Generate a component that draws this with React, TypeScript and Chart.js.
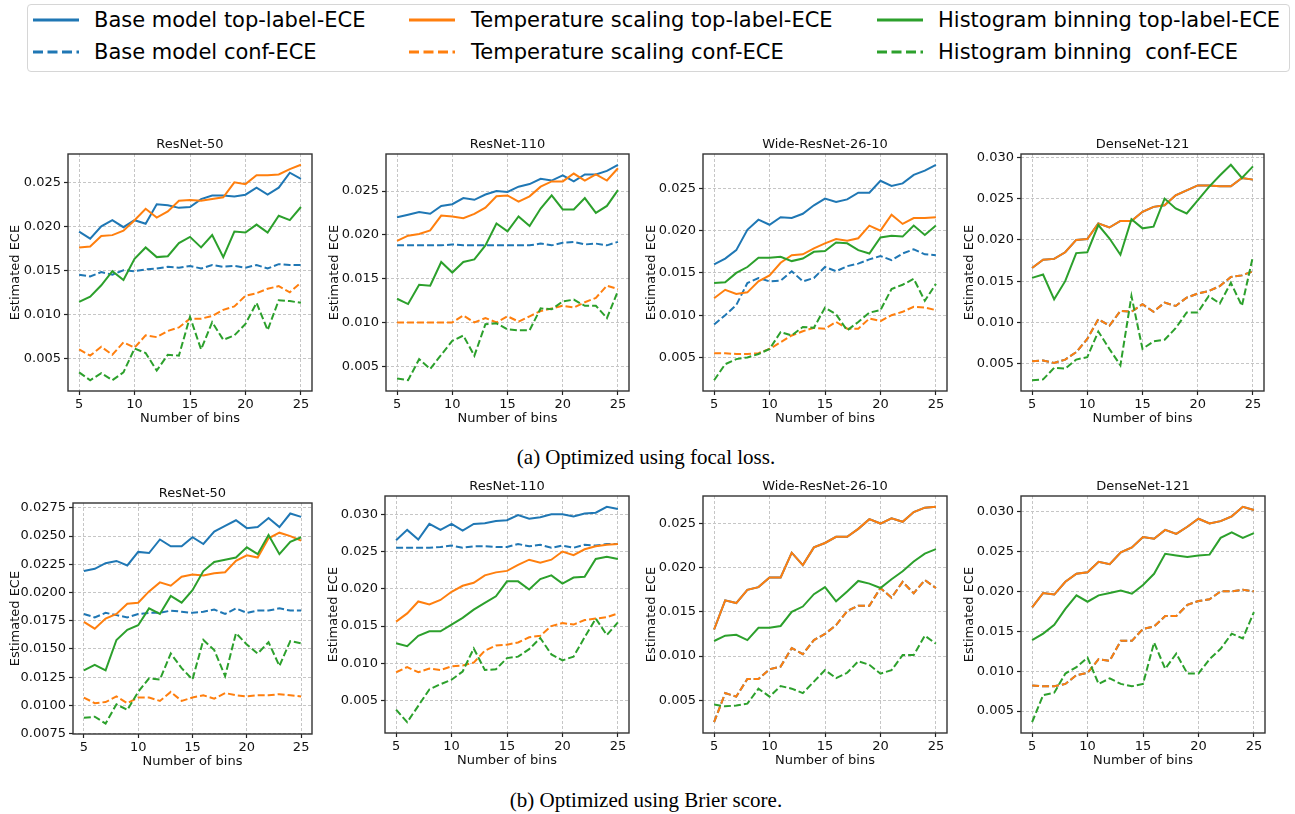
import React, { useEffect, useRef } from 'react';
import { Chart, registerables } from 'chart.js';

Chart.register(...registerables);

// ---------------- data ----------------
const BINS = [5, 6, 7, 8, 9, 10, 11, 12, 13, 14, 15, 16, 17, 18, 19, 20, 21, 22, 23, 24, 25];
const X_TICKS = [5, 10, 15, 20, 25];
const Y_TICKS_025 = [0.005, 0.01, 0.015, 0.02, 0.025];
const Y_TICKS_030 = [0.005, 0.01, 0.015, 0.02, 0.025, 0.03];
const Y_TICKS_BR50 = [0.0075, 0.01, 0.0125, 0.015, 0.0175, 0.02, 0.0225, 0.025, 0.0275];

const SERIES_LABELS = [
  'Base model top-label-ECE',
  'Base model conf-ECE',
  'Temperature scaling top-label-ECE',
  'Temperature scaling conf-ECE',
  'Histogram binning top-label-ECE',
  'Histogram binning  conf-ECE',
];
const SERIES_COLORS = ['#1f77b4', '#1f77b4', '#ff7f0e', '#ff7f0e', '#2ca02c', '#2ca02c'];
const SERIES_DASHED = [false, true, false, true, false, true];

// (a) focal loss — ResNet-50
const fR50BaseTop = [0.0194, 0.0186, 0.0200, 0.0207, 0.0199, 0.0207, 0.0203, 0.0225, 0.0224, 0.0221, 0.0222, 0.0231, 0.0235, 0.0235, 0.0234, 0.0236, 0.0244, 0.0236, 0.0244, 0.0261, 0.0254];
const fR50BaseConf = [0.0145, 0.0143, 0.0148, 0.0145, 0.0150, 0.0149, 0.0151, 0.0152, 0.0154, 0.0153, 0.0155, 0.0152, 0.0156, 0.0154, 0.0155, 0.0153, 0.0156, 0.0152, 0.0157, 0.0156, 0.0156];
const fR50TsTop = [0.0176, 0.0177, 0.0189, 0.0190, 0.0195, 0.0207, 0.0220, 0.0210, 0.0217, 0.0229, 0.0230, 0.0229, 0.0231, 0.0233, 0.0250, 0.0248, 0.0258, 0.0258, 0.0259, 0.0265, 0.0270];
const fR50TsConf = [0.0060, 0.0053, 0.0063, 0.0054, 0.0068, 0.0062, 0.0076, 0.0074, 0.0081, 0.0085, 0.0095, 0.0095, 0.0098, 0.0105, 0.0109, 0.0121, 0.0124, 0.0129, 0.0132, 0.0125, 0.0136];
const fR50HbTop = [0.0114, 0.0120, 0.0133, 0.0149, 0.0139, 0.0163, 0.0176, 0.0165, 0.0166, 0.0181, 0.0188, 0.0176, 0.0190, 0.0165, 0.0194, 0.0193, 0.0202, 0.0193, 0.0212, 0.0207, 0.0222];
const fR50HbConf = [0.0034, 0.0025, 0.0033, 0.0025, 0.0034, 0.0061, 0.0056, 0.0036, 0.0054, 0.0053, 0.0097, 0.0060, 0.0091, 0.0071, 0.0076, 0.0089, 0.0113, 0.0082, 0.0116, 0.0115, 0.0113];

// (a) focal loss — ResNet-110
const fR110BaseTop = [0.0220, 0.0223, 0.0226, 0.0224, 0.0233, 0.0235, 0.0242, 0.0240, 0.0246, 0.0250, 0.0249, 0.0255, 0.0258, 0.0264, 0.0262, 0.0268, 0.0261, 0.0269, 0.0269, 0.0273, 0.0280];
const fR110BaseConf = [0.0188, 0.0188, 0.0188, 0.0188, 0.0188, 0.0189, 0.0188, 0.0188, 0.0188, 0.0188, 0.0188, 0.0188, 0.0188, 0.0190, 0.0188, 0.0191, 0.0192, 0.0189, 0.0190, 0.0188, 0.0192];
const fR110TsTop = [0.0193, 0.0199, 0.0201, 0.0205, 0.0222, 0.0221, 0.0219, 0.0224, 0.0231, 0.0244, 0.0245, 0.0238, 0.0244, 0.0255, 0.0261, 0.0261, 0.0270, 0.0262, 0.0269, 0.0262, 0.0276];
const fR110TsConf = [0.0100, 0.0100, 0.0100, 0.0100, 0.0100, 0.0100, 0.0108, 0.0100, 0.0105, 0.0100, 0.0107, 0.0101, 0.0107, 0.0113, 0.0116, 0.0119, 0.0117, 0.0123, 0.0128, 0.0142, 0.0138];
const fR110HbTop = [0.0127, 0.0121, 0.0143, 0.0142, 0.0169, 0.0157, 0.0169, 0.0172, 0.0188, 0.0213, 0.0204, 0.0221, 0.0210, 0.0230, 0.0245, 0.0229, 0.0229, 0.0242, 0.0225, 0.0233, 0.0251];
const fR110HbConf = [0.0036, 0.0034, 0.0058, 0.0047, 0.0063, 0.0079, 0.0085, 0.0062, 0.0098, 0.0099, 0.0092, 0.0091, 0.0091, 0.0116, 0.0115, 0.0124, 0.0126, 0.0119, 0.0119, 0.0105, 0.0136];

// (a) focal loss — Wide-ResNet-26-10
const fWrnBaseTop = [0.0160, 0.0167, 0.0177, 0.0201, 0.0213, 0.0207, 0.0216, 0.0215, 0.0220, 0.0230, 0.0238, 0.0234, 0.0237, 0.0245, 0.0245, 0.0259, 0.0253, 0.0256, 0.0266, 0.0271, 0.0278];
const fWrnBaseConf = [0.0089, 0.0100, 0.0112, 0.0138, 0.0144, 0.0140, 0.0141, 0.0152, 0.0140, 0.0144, 0.0157, 0.0152, 0.0158, 0.0161, 0.0166, 0.0170, 0.0165, 0.0173, 0.0178, 0.0172, 0.0171];
const fWrnTsTop = [0.0120, 0.0130, 0.0125, 0.0127, 0.0140, 0.0147, 0.0162, 0.0171, 0.0172, 0.0179, 0.0185, 0.0190, 0.0188, 0.0191, 0.0206, 0.0200, 0.0219, 0.0208, 0.0215, 0.0215, 0.0216];
const fWrnTsConf = [0.0055, 0.0055, 0.0054, 0.0054, 0.0055, 0.0060, 0.0068, 0.0076, 0.0081, 0.0085, 0.0084, 0.0092, 0.0084, 0.0084, 0.0096, 0.0093, 0.0100, 0.0104, 0.0110, 0.0109, 0.0106];
const fWrnHbTop = [0.0138, 0.0139, 0.0150, 0.0157, 0.0168, 0.0168, 0.0169, 0.0164, 0.0167, 0.0175, 0.0176, 0.0186, 0.0185, 0.0177, 0.0173, 0.0192, 0.0194, 0.0193, 0.0206, 0.0195, 0.0206];
const fWrnHbConf = [0.0023, 0.0042, 0.0048, 0.0050, 0.0054, 0.0060, 0.0080, 0.0076, 0.0086, 0.0085, 0.0109, 0.0101, 0.0082, 0.0092, 0.0103, 0.0106, 0.0131, 0.0136, 0.0143, 0.0117, 0.0137];

// (a) focal loss — DenseNet-121 (base model coincides with temperature scaling)
const fDnBaseTop = [0.0166, 0.0176, 0.0177, 0.0185, 0.0200, 0.0201, 0.0220, 0.0215, 0.0223, 0.0223, 0.0234, 0.0240, 0.0242, 0.0254, 0.0260, 0.0266, 0.0266, 0.0265, 0.0265, 0.0275, 0.0273];
const fDnBaseConf = [0.0053, 0.0054, 0.0051, 0.0055, 0.0064, 0.0080, 0.0104, 0.0096, 0.0114, 0.0113, 0.0122, 0.0113, 0.0124, 0.0120, 0.0130, 0.0135, 0.0138, 0.0144, 0.0155, 0.0157, 0.0162];
const fDnTsTop = [0.0166, 0.0176, 0.0177, 0.0185, 0.0200, 0.0201, 0.0220, 0.0215, 0.0223, 0.0223, 0.0234, 0.0240, 0.0242, 0.0254, 0.0260, 0.0266, 0.0266, 0.0265, 0.0265, 0.0275, 0.0273];
const fDnTsConf = [0.0053, 0.0054, 0.0051, 0.0055, 0.0064, 0.0080, 0.0104, 0.0096, 0.0114, 0.0113, 0.0122, 0.0113, 0.0124, 0.0120, 0.0130, 0.0135, 0.0138, 0.0144, 0.0155, 0.0157, 0.0162];
const fDnHbTop = [0.0154, 0.0158, 0.0128, 0.0150, 0.0184, 0.0185, 0.0218, 0.0202, 0.0182, 0.0225, 0.0214, 0.0216, 0.0250, 0.0238, 0.0232, 0.0248, 0.0264, 0.0278, 0.0291, 0.0275, 0.0289];
const fDnHbConf = [0.0030, 0.0031, 0.0045, 0.0044, 0.0055, 0.0058, 0.0089, 0.0068, 0.0048, 0.0132, 0.0068, 0.0077, 0.0079, 0.0093, 0.0112, 0.0112, 0.0132, 0.0123, 0.0148, 0.0120, 0.0180];

// (b) Brier score — ResNet-50
const bR50BaseTop = [0.0219, 0.0221, 0.0226, 0.0228, 0.0224, 0.0236, 0.0235, 0.0247, 0.0241, 0.0241, 0.0249, 0.0243, 0.0254, 0.0259, 0.0264, 0.0257, 0.0258, 0.0266, 0.0258, 0.0270, 0.0267];
const bR50BaseConf = [0.0181, 0.0178, 0.0182, 0.0180, 0.0178, 0.0181, 0.0182, 0.0182, 0.0184, 0.0183, 0.0182, 0.0183, 0.0185, 0.0181, 0.0186, 0.0182, 0.0184, 0.0184, 0.0186, 0.0184, 0.0184];
const bR50TsTop = [0.0174, 0.0168, 0.0177, 0.0181, 0.0190, 0.0191, 0.0201, 0.0209, 0.0206, 0.0214, 0.0216, 0.0215, 0.0217, 0.0218, 0.0228, 0.0233, 0.0231, 0.0248, 0.0253, 0.0250, 0.0246];
const bR50TsConf = [0.0107, 0.0102, 0.0103, 0.0108, 0.0102, 0.0107, 0.0107, 0.0104, 0.0112, 0.0104, 0.0107, 0.0109, 0.0106, 0.0111, 0.0109, 0.0108, 0.0109, 0.0109, 0.0110, 0.0109, 0.0108];
const bR50HbTop = [0.0131, 0.0136, 0.0131, 0.0158, 0.0167, 0.0171, 0.0186, 0.0181, 0.0197, 0.0191, 0.0202, 0.0219, 0.0227, 0.0229, 0.0231, 0.0240, 0.0234, 0.0251, 0.0234, 0.0245, 0.0249];
const bR50HbConf = [0.0089, 0.0090, 0.0084, 0.0101, 0.0096, 0.0112, 0.0124, 0.0123, 0.0146, 0.0133, 0.0123, 0.0158, 0.0149, 0.0126, 0.0164, 0.0154, 0.0146, 0.0156, 0.0135, 0.0157, 0.0155];

// (b) Brier score — ResNet-110
const bR110BaseTop = [0.0265, 0.0279, 0.0266, 0.0287, 0.0279, 0.0287, 0.0278, 0.0287, 0.0288, 0.0291, 0.0292, 0.0299, 0.0294, 0.0296, 0.0300, 0.0300, 0.0297, 0.0301, 0.0302, 0.0310, 0.0307];
const bR110BaseConf = [0.0255, 0.0255, 0.0255, 0.0255, 0.0256, 0.0258, 0.0255, 0.0257, 0.0257, 0.0256, 0.0256, 0.0260, 0.0257, 0.0259, 0.0255, 0.0258, 0.0255, 0.0259, 0.0258, 0.0260, 0.0260];
const bR110TsTop = [0.0156, 0.0167, 0.0183, 0.0179, 0.0185, 0.0196, 0.0204, 0.0208, 0.0218, 0.0222, 0.0224, 0.0232, 0.0239, 0.0235, 0.0239, 0.0250, 0.0245, 0.0253, 0.0257, 0.0259, 0.0260];
const bR110TsConf = [0.0088, 0.0095, 0.0088, 0.0093, 0.0091, 0.0096, 0.0097, 0.0101, 0.0117, 0.0124, 0.0125, 0.0128, 0.0135, 0.0137, 0.0150, 0.0154, 0.0152, 0.0158, 0.0160, 0.0162, 0.0167];
const bR110HbTop = [0.0127, 0.0123, 0.0137, 0.0143, 0.0143, 0.0152, 0.0161, 0.0172, 0.0181, 0.0190, 0.0210, 0.0210, 0.0199, 0.0213, 0.0218, 0.0207, 0.0215, 0.0216, 0.0240, 0.0243, 0.0240];
const bR110HbConf = [0.0038, 0.0021, 0.0043, 0.0065, 0.0072, 0.0078, 0.0089, 0.0120, 0.0091, 0.0092, 0.0107, 0.0109, 0.0119, 0.0134, 0.0112, 0.0104, 0.0109, 0.0135, 0.0160, 0.0138, 0.0155];

// (b) Brier score — Wide-ResNet-26-10 (base model coincides with temperature scaling)
const bWrnBaseTop = [0.0130, 0.0163, 0.0160, 0.0175, 0.0178, 0.0189, 0.0189, 0.0217, 0.0203, 0.0223, 0.0228, 0.0235, 0.0235, 0.0244, 0.0255, 0.0250, 0.0256, 0.0252, 0.0263, 0.0268, 0.0269];
const bWrnBaseConf = [0.0025, 0.0058, 0.0054, 0.0074, 0.0074, 0.0085, 0.0088, 0.0109, 0.0102, 0.0118, 0.0125, 0.0135, 0.0151, 0.0157, 0.0157, 0.0177, 0.0166, 0.0184, 0.0171, 0.0186, 0.0177];
const bWrnTsTop = [0.0130, 0.0163, 0.0160, 0.0175, 0.0178, 0.0189, 0.0189, 0.0217, 0.0203, 0.0223, 0.0228, 0.0235, 0.0235, 0.0244, 0.0255, 0.0250, 0.0256, 0.0252, 0.0263, 0.0268, 0.0269];
const bWrnTsConf = [0.0025, 0.0058, 0.0054, 0.0074, 0.0074, 0.0085, 0.0088, 0.0109, 0.0102, 0.0118, 0.0125, 0.0135, 0.0151, 0.0157, 0.0157, 0.0177, 0.0166, 0.0184, 0.0171, 0.0186, 0.0177];
const bWrnHbTop = [0.0117, 0.0123, 0.0124, 0.0118, 0.0132, 0.0132, 0.0134, 0.0150, 0.0156, 0.0170, 0.0178, 0.0162, 0.0173, 0.0185, 0.0182, 0.0177, 0.0187, 0.0196, 0.0207, 0.0216, 0.0221];
const bWrnHbConf = [0.0045, 0.0043, 0.0044, 0.0046, 0.0063, 0.0054, 0.0066, 0.0063, 0.0058, 0.0071, 0.0084, 0.0075, 0.0081, 0.0094, 0.0090, 0.0080, 0.0084, 0.0101, 0.0101, 0.0123, 0.0114];

// (b) Brier score — DenseNet-121 (base model coincides with temperature scaling)
const bDnBaseTop = [0.0180, 0.0198, 0.0196, 0.0212, 0.0222, 0.0224, 0.0237, 0.0234, 0.0249, 0.0255, 0.0268, 0.0266, 0.0277, 0.0272, 0.0281, 0.0291, 0.0285, 0.0288, 0.0294, 0.0306, 0.0302];
const bDnBaseConf = [0.0082, 0.0081, 0.0081, 0.0084, 0.0095, 0.0098, 0.0115, 0.0113, 0.0138, 0.0138, 0.0153, 0.0156, 0.0169, 0.0169, 0.0183, 0.0188, 0.0190, 0.0200, 0.0200, 0.0202, 0.0200];
const bDnTsTop = [0.0180, 0.0198, 0.0196, 0.0212, 0.0222, 0.0224, 0.0237, 0.0234, 0.0249, 0.0255, 0.0268, 0.0266, 0.0277, 0.0272, 0.0281, 0.0291, 0.0285, 0.0288, 0.0294, 0.0306, 0.0302];
const bDnTsConf = [0.0082, 0.0081, 0.0081, 0.0084, 0.0095, 0.0098, 0.0115, 0.0113, 0.0138, 0.0138, 0.0153, 0.0156, 0.0169, 0.0169, 0.0183, 0.0188, 0.0190, 0.0200, 0.0200, 0.0202, 0.0200];
const bDnHbTop = [0.0139, 0.0147, 0.0158, 0.0178, 0.0195, 0.0187, 0.0195, 0.0198, 0.0201, 0.0197, 0.0208, 0.0222, 0.0247, 0.0245, 0.0243, 0.0245, 0.0246, 0.0267, 0.0274, 0.0267, 0.0273];
const bDnHbConf = [0.0036, 0.0070, 0.0073, 0.0097, 0.0105, 0.0117, 0.0084, 0.0091, 0.0084, 0.0081, 0.0084, 0.0136, 0.0103, 0.0122, 0.0097, 0.0097, 0.0115, 0.0128, 0.0147, 0.0141, 0.0174];

// ---------------- layout ----------------
const FONT = '"DejaVu Sans", "Liberation Sans", sans-serif';
const TITLE_SPACE = 24;
const XAXIS_H = 36;
const PAD_RIGHT = 6;

type PanelCfg = {
  title: string;
  series: number[][];
  yTicks: number[];
  dec: number;
  axL: number; axR: number; axT: number; axB: number; ylab: number;
};

const PANELS: PanelCfg[] = [
  { title: 'ResNet-50', series: [fR50BaseTop, fR50BaseConf, fR50TsTop, fR50TsConf, fR50HbTop, fR50HbConf], yTicks: Y_TICKS_025, dec: 3, axL: 68, axR: 312, axT: 154, axB: 391, ylab: 16 },
  { title: 'ResNet-110', series: [fR110BaseTop, fR110BaseConf, fR110TsTop, fR110TsConf, fR110HbTop, fR110HbConf], yTicks: Y_TICKS_025, dec: 3, axL: 386, axR: 629, axT: 154, axB: 391, ylab: 335 },
  { title: 'Wide-ResNet-26-10', series: [fWrnBaseTop, fWrnBaseConf, fWrnTsTop, fWrnTsConf, fWrnHbTop, fWrnHbConf], yTicks: Y_TICKS_025, dec: 3, axL: 703, axR: 947, axT: 154, axB: 391, ylab: 652 },
  { title: 'DenseNet-121', series: [fDnBaseTop, fDnBaseConf, fDnTsTop, fDnTsConf, fDnHbTop, fDnHbConf], yTicks: Y_TICKS_030, dec: 3, axL: 1021, axR: 1264, axT: 154, axB: 391, ylab: 970 },
  { title: 'ResNet-50', series: [bR50BaseTop, bR50BaseConf, bR50TsTop, bR50TsConf, bR50HbTop, bR50HbConf], yTicks: Y_TICKS_BR50, dec: 4, axL: 73, axR: 312, axT: 503, axB: 734, ylab: 16 },
  { title: 'ResNet-110', series: [bR110BaseTop, bR110BaseConf, bR110TsTop, bR110TsConf, bR110HbTop, bR110HbConf], yTicks: Y_TICKS_030, dec: 3, axL: 385, axR: 629, axT: 496, axB: 733, ylab: 334 },
  { title: 'Wide-ResNet-26-10', series: [bWrnBaseTop, bWrnBaseConf, bWrnTsTop, bWrnTsConf, bWrnHbTop, bWrnHbConf], yTicks: Y_TICKS_025, dec: 3, axL: 703, axR: 947, axT: 496, axB: 733, ylab: 652 },
  { title: 'DenseNet-121', series: [bDnBaseTop, bDnBaseConf, bDnTsTop, bDnTsConf, bDnHbTop, bDnHbConf], yTicks: Y_TICKS_030, dec: 3, axL: 1021, axR: 1265, axT: 496, axB: 733, ylab: 970 },
];

const framePlugin = {
  id: 'frameTitle',
  afterDraw(chart: any, _args: any, opts: any) {
    const { ctx, chartArea } = chart;
    const { left, top, right, bottom } = chartArea;
    ctx.save();
    ctx.strokeStyle = '#333333';
    ctx.lineWidth = 1.4;
    ctx.strokeRect(left, top, right - left, bottom - top);
    ctx.fillStyle = '#111111';
    ctx.font = `13px ${FONT}`;
    ctx.textAlign = 'center';
    ctx.textBaseline = 'middle';
    ctx.fillText(opts.text || '', (left + right) / 2, top - 9);
    ctx.restore();
  },
};

function Panel({ p }: { p: PanelCfg }) {
  const ref = useRef<HTMLCanvasElement | null>(null);
  const yw = p.axL - (p.ylab - 8);
  const width = p.axR - p.axL + yw + PAD_RIGHT;
  const height = p.axB - p.axT + TITLE_SPACE + XAXIS_H;
  const left = p.ylab - 8;
  const top = p.axT - TITLE_SPACE;

  useEffect(() => {
    if (!ref.current) return;
    const all = p.series.flat();
    const lo = Math.min(...all);
    const hi = Math.max(...all);
    const m = (hi - lo) * 0.05;
    const datasets = p.series.map((vals, i) => ({
      label: SERIES_LABELS[i],
      data: BINS.map((b, j) => ({ x: b, y: vals[j] })),
      borderColor: SERIES_COLORS[i],
      backgroundColor: SERIES_COLORS[i],
      borderWidth: 2,
      borderDash: SERIES_DASHED[i] ? [7, 3] : [],
      pointRadius: 0,
      pointHoverRadius: 0,
      tension: 0,
      fill: false,
      order: 6 - i,
    }));
    const tickFont = { family: FONT, size: 13, lineHeight: '16px' };
    const gridCommon = {
      color: '#c6c6c6',
      lineWidth: 1,
      drawTicks: true,
      tickLength: 4,
      tickColor: '#222222',
      tickWidth: 1.2,
      tickBorderDash: [],
    };
    const chart = new Chart(ref.current, {
      type: 'line',
      data: { datasets },
      plugins: [framePlugin],
      options: {
        animation: false,
        responsive: false,
        devicePixelRatio: 1,
        layout: { padding: { top: TITLE_SPACE, right: PAD_RIGHT, bottom: 0, left: 0 } },
        plugins: {
          legend: { display: false },
          tooltip: { enabled: false },
          title: { display: false },
          frameTitle: { text: p.title },
        } as any,
        scales: {
          x: {
            type: 'linear',
            min: 4,
            max: 26,
            afterBuildTicks: (s: any) => { s.ticks = X_TICKS.map((v) => ({ value: v })); },
            afterFit: (s: any) => { s.height = XAXIS_H; },
            ticks: { callback: (v: any) => String(v), color: '#111111', font: tickFont, padding: 2, maxRotation: 0, autoSkip: false },
            grid: gridCommon,
            border: { display: false, dash: [3, 2] },
            title: { display: true, text: 'Number of bins', color: '#111111', font: tickFont, padding: { top: 0, bottom: 0 } },
          },
          y: {
            type: 'linear',
            min: lo - m,
            max: hi + m,
            afterBuildTicks: (s: any) => { s.ticks = p.yTicks.map((v) => ({ value: v })); },
            afterFit: (s: any) => { s.width = yw; },
            ticks: { callback: (v: any) => Number(v).toFixed(p.dec), color: '#111111', font: tickFont, padding: 3, autoSkip: false },
            grid: gridCommon,
            border: { display: false, dash: [3, 2] },
            title: { display: true, text: 'Estimated ECE', color: '#111111', font: tickFont, padding: { top: 0, bottom: 0 } },
          },
        },
      } as any,
    });
    return () => chart.destroy();
  }, [p]);

  return (
    <canvas
      ref={ref}
      width={width}
      height={height}
      style={{ position: 'absolute', left, top, width, height }}
    />
  );
}

const LEGEND_COLS = [
  { lineX: 33, textX: 94 },
  { lineX: 409, textX: 471 },
  { lineX: 877, textX: 938 },
];
const LEGEND_ROWS = [20, 52];

function Legend() {
  const items = SERIES_LABELS.map((label, i) => {
    const col = LEGEND_COLS[Math.floor(i / 2)];
    const cy = LEGEND_ROWS[i % 2];
    return (
      <React.Fragment key={i}>
        <svg
          width={46}
          height={8}
          style={{ position: 'absolute', left: col.lineX, top: cy - 4 }}
        >
          <line
            x1={0}
            y1={4}
            x2={46}
            y2={4}
            stroke={SERIES_COLORS[i]}
            strokeWidth={2.8}
            strokeDasharray={SERIES_DASHED[i] ? '10 4.5' : undefined}
          />
        </svg>
        <div
          style={{
            position: 'absolute',
            left: col.textX,
            top: cy - 13,
            height: 26,
            lineHeight: '26px',
            fontFamily: FONT,
            fontSize: 21,
            color: '#000',
            whiteSpace: 'pre',
          }}
        >
          {label}
        </div>
      </React.Fragment>
    );
  });
  return (
    <>
      <div
        style={{
          position: 'absolute',
          left: 27,
          top: 4,
          width: 1263,
          height: 68,
          border: '1px solid #d6d6d6',
          borderRadius: 4,
          boxSizing: 'border-box',
          background: '#fff',
        }}
      />
      {items}
    </>
  );
}

const CAPTIONS = [
  { text: '(a) Optimized using focal loss.', cy: 457 },
  { text: '(b) Optimized using Brier score.', cy: 800 },
];

export default function App() {
  return (
    <div
      style={{
        position: 'absolute',
        left: 0,
        top: 0,
        width: 1295,
        height: 814,
        background: '#ffffff',
        overflow: 'hidden',
      }}
    >
      <Legend />
      {PANELS.map((p, i) => (
        <Panel key={i} p={p} />
      ))}
      {CAPTIONS.map((c, i) => (
        <div
          key={i}
          style={{
            position: 'absolute',
            left: 0,
            width: 1292,
            top: c.cy - 13,
            height: 26,
            lineHeight: '26px',
            textAlign: 'center',
            fontFamily: '"Liberation Serif", "Times New Roman", serif',
            fontSize: 21,
            color: '#000',
          }}
        >
          {c.text}
        </div>
      ))}
    </div>
  );
}
